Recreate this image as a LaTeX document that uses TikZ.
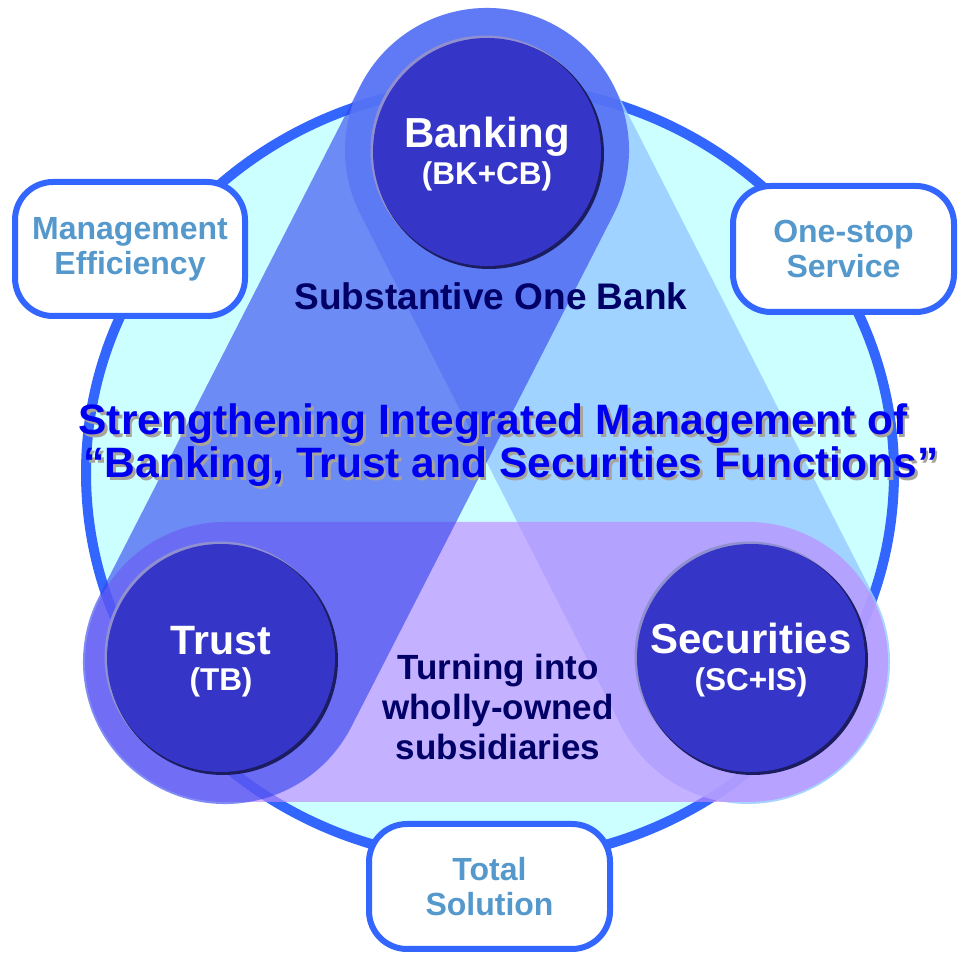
\documentclass[tikz,border=0pt]{standalone}
\usepackage{fontspec}
\setmainfont{Liberation Sans}
\usetikzlibrary{shapes.geometric}
\definecolor{ringblue}{HTML}{3366FF}
\definecolor{bgcyan}{HTML}{CCFFFF}
\definecolor{lband}{HTML}{99CCFF}
\definecolor{dband}{HTML}{3344EE}
\definecolor{pband}{HTML}{C088FF}
\definecolor{nodefill}{HTML}{3535C8}
\definecolor{nodedark}{HTML}{1C1C60}
\definecolor{nodelight}{HTML}{9090D0}
\definecolor{boxtext}{HTML}{5599CC}
\definecolor{navytext}{HTML}{000066}
\definecolor{titleblue}{HTML}{0000F0}
\definecolor{shadowgray}{HTML}{A8A49C}
\newcommand{\shadowedtext}[1]{\makebox[0pt][l]{\hspace{2.5pt}\raisebox{-2.5pt}{\textcolor{shadowgray}{#1}}}\textcolor{titleblue}{#1}}
\begin{document}
\begin{tikzpicture}[x=1pt,y=1pt,
  sidebox/.style={draw=ringblue, line width=6pt, fill=white, rounded corners=38pt,
    text=boxtext, font=\bfseries\fontsize{32}{35}\selectfont, align=center, inner sep=0pt},
  nodecirc/.style={circle, fill=nodefill, minimum size=228pt, inner sep=0pt},
  bigname/.style={text=white, font=\bfseries\fontsize{42}{44}\selectfont, anchor=base, inner sep=0pt},
  smallname/.style={text=white, font=\bfseries\fontsize{31.5}{33}\selectfont, anchor=base, inner sep=0pt},
  navylabel/.style={text=navytext, anchor=base, inner sep=0pt},
  titletext/.style={font=\bfseries\fontsize{42.5}{44}\selectfont, anchor=base, inner sep=0pt}]
\useasboundingbox (0,0) rectangle (959,953);
% big ring
\node[ellipse, draw=ringblue, line width=10pt, fill=bgcyan, minimum width=808pt, minimum height=776pt, inner sep=0pt] (ring) at (490,480) {};
% Banking - Securities band
\fill[lband, opacity=0.85] (613.5,867.5) -- (874.5,355.5) arc[start angle=27, end angle=-153, radius=142]
  -- (360.5,738.5) arc[start angle=207, end angle=27, radius=142] -- cycle;
% Trust - Securities band
\fill[pband, opacity=0.65] (225,431) -- (748,431) arc[start angle=90, end angle=-90, radius=140]
  -- (225,151) arc[start angle=270, end angle=90, radius=140] -- cycle;
% Banking - Trust band
\fill[dband, opacity=0.62] (613.4,738.3) -- (351.4,226.3) arc[start angle=-27.1, end angle=-207.1, radius=142]
  -- (360.6,867.7) arc[start angle=152.9, end angle=-27.1, radius=142] -- cycle;
% node circles with rim
\fill[nodelight] (485.5,802.5) circle[radius=115];
\fill[nodedark] (489,799) circle[radius=115];
\node[nodecirc] (bk) at (487,801) {};
\fill[nodelight] (219.5,296.5) circle[radius=115];
\fill[nodedark] (223,293) circle[radius=115];
\node[nodecirc] (tb) at (221,295) {};
\fill[nodelight] (749.5,296.5) circle[radius=115];
\fill[nodedark] (753,293) circle[radius=115];
\node[nodecirc] (sc) at (751,295) {};
% node texts
\node[bigname] (bkname) at (487,805) {Banking};
\node[smallname] (bksub) at (487,768) {(BK+CB)};
\node[bigname, font=\bfseries\fontsize{41}{43}\selectfont] (tbname) at (221,298) {Trust};
\node[smallname] (tbsub) at (221,262) {(TB)};
\node[bigname] (scname) at (751,299) {Securities};
\node[smallname] (scsub) at (751,262) {(SC+IS)};
% inner labels
\node[navylabel, font=\bfseries\fontsize{37}{39}\selectfont] (onebank) at (491,643) {Substantive One Bank};
\node[navylabel, font=\bfseries\fontsize{35}{37}\selectfont] (turn1) at (498,273) {Turning into};
\node[navylabel, font=\bfseries\fontsize{35}{37}\selectfont] (turn2) at (498,233) {wholly-owned};
\node[navylabel, font=\bfseries\fontsize{35}{37}\selectfont] (turn3) at (498,193) {subsidiaries};
% title with shadow
\node[titletext] (t1) at (493,518) {\shadowedtext{Strengthening Integrated Management of}};
\node[titletext] (t2) at (511,475) {\shadowedtext{“Banking, Trust and Securities Functions”}};
% side boxes
\node[sidebox, minimum width=230pt, minimum height=134pt] (me) at (130,704) {Management\\Efficiency};
\node[sidebox, minimum width=221pt, minimum height=126pt] (os) at (843.5,704) {One-stop\\Service};
\node[sidebox, minimum width=241pt, minimum height=125pt] (ts) at (489.5,66.5) {Total\\Solution};
\end{tikzpicture}
\end{document}
